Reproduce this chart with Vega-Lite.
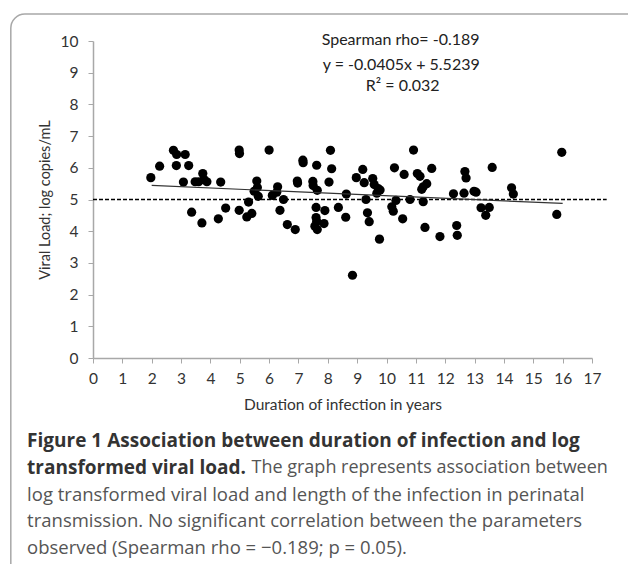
{
  "$schema": "https://vega.github.io/schema/vega-lite/v6.json",
  "autosize": {"type": "none"},
  "width": 499,
  "height": 317,
  "padding": {"left": 93, "top": 41, "right": 36, "bottom": 206},
  "background": "white",
  "config": {
    "view": {"stroke": null},
    "font": "Lato",
    "axis": {
      "grid": false,
      "domainColor": "#a8a8a8",
      "domainWidth": 1.5,
      "tickColor": "#a8a8a8",
      "tickWidth": 1,
      "tickSize": 5,
      "labelFont": "Lato",
      "labelFontSize": 15.5,
      "labelColor": "#333333",
      "titleFont": "Lato",
      "titleFontWeight": "normal",
      "titleColor": "#333333"
    }
  },
  "data": {"values": [
    {"duration": 1.97, "vl": 5.69}, {"duration": 2.27, "vl": 6.05}, {"duration": 2.74, "vl": 6.55},
    {"duration": 2.85, "vl": 6.42}, {"duration": 2.84, "vl": 6.07}, {"duration": 3.14, "vl": 6.42},
    {"duration": 3.08, "vl": 5.55}, {"duration": 3.26, "vl": 6.07}, {"duration": 3.36, "vl": 4.6},
    {"duration": 3.48, "vl": 5.56}, {"duration": 3.6, "vl": 5.56}, {"duration": 3.74, "vl": 5.82},
    {"duration": 3.78, "vl": 5.63}, {"duration": 3.88, "vl": 5.56}, {"duration": 3.71, "vl": 4.26},
    {"duration": 4.27, "vl": 4.39}, {"duration": 4.35, "vl": 5.55}, {"duration": 4.52, "vl": 4.73},
    {"duration": 4.98, "vl": 6.56}, {"duration": 4.99, "vl": 6.45}, {"duration": 4.98, "vl": 4.66},
    {"duration": 5.24, "vl": 4.45}, {"duration": 5.41, "vl": 4.56}, {"duration": 5.3, "vl": 4.92},
    {"duration": 5.49, "vl": 5.26}, {"duration": 5.58, "vl": 5.58}, {"duration": 5.6, "vl": 5.38},
    {"duration": 5.63, "vl": 5.1}, {"duration": 6.0, "vl": 6.56}, {"duration": 6.11, "vl": 5.13},
    {"duration": 6.26, "vl": 5.23}, {"duration": 6.29, "vl": 5.4}, {"duration": 6.37, "vl": 4.66},
    {"duration": 6.49, "vl": 5.0}, {"duration": 6.62, "vl": 4.21}, {"duration": 6.89, "vl": 4.05},
    {"duration": 6.96, "vl": 5.58}, {"duration": 6.97, "vl": 5.52}, {"duration": 7.15, "vl": 6.24},
    {"duration": 7.16, "vl": 6.16}, {"duration": 7.49, "vl": 5.57}, {"duration": 7.5, "vl": 5.44},
    {"duration": 7.62, "vl": 6.08}, {"duration": 7.64, "vl": 5.29}, {"duration": 7.6, "vl": 4.75},
    {"duration": 7.6, "vl": 4.43}, {"duration": 7.62, "vl": 4.31}, {"duration": 7.56, "vl": 4.16},
    {"duration": 7.64, "vl": 4.05}, {"duration": 7.87, "vl": 4.24}, {"duration": 7.9, "vl": 4.65},
    {"duration": 8.04, "vl": 5.55}, {"duration": 8.09, "vl": 6.55}, {"duration": 8.13, "vl": 5.97},
    {"duration": 8.36, "vl": 4.75}, {"duration": 8.61, "vl": 4.44}, {"duration": 8.63, "vl": 5.17},
    {"duration": 8.84, "vl": 2.61}, {"duration": 8.97, "vl": 5.69}, {"duration": 9.19, "vl": 5.95},
    {"duration": 9.24, "vl": 5.53}, {"duration": 9.3, "vl": 5.0}, {"duration": 9.35, "vl": 4.58},
    {"duration": 9.41, "vl": 4.3}, {"duration": 9.53, "vl": 5.66}, {"duration": 9.58, "vl": 5.47},
    {"duration": 9.67, "vl": 5.2}, {"duration": 9.72, "vl": 5.34}, {"duration": 9.78, "vl": 5.3},
    {"duration": 9.76, "vl": 3.75}, {"duration": 10.18, "vl": 4.77}, {"duration": 10.23, "vl": 4.63},
    {"duration": 10.27, "vl": 6.0}, {"duration": 10.32, "vl": 4.97}, {"duration": 10.55, "vl": 4.39},
    {"duration": 10.6, "vl": 5.79}, {"duration": 10.8, "vl": 5.0}, {"duration": 10.92, "vl": 6.56},
    {"duration": 11.05, "vl": 5.82}, {"duration": 11.14, "vl": 5.73}, {"duration": 11.2, "vl": 5.32},
    {"duration": 11.25, "vl": 5.4}, {"duration": 11.37, "vl": 5.5}, {"duration": 11.25, "vl": 4.93},
    {"duration": 11.31, "vl": 4.12}, {"duration": 11.54, "vl": 5.98}, {"duration": 11.82, "vl": 3.83},
    {"duration": 12.28, "vl": 5.18}, {"duration": 12.39, "vl": 4.18}, {"duration": 12.41, "vl": 3.87},
    {"duration": 12.67, "vl": 5.88}, {"duration": 12.71, "vl": 5.68}, {"duration": 12.64, "vl": 5.2},
    {"duration": 12.98, "vl": 5.26}, {"duration": 13.05, "vl": 5.23}, {"duration": 13.22, "vl": 4.74},
    {"duration": 13.38, "vl": 4.5}, {"duration": 13.5, "vl": 4.75}, {"duration": 13.6, "vl": 6.01},
    {"duration": 14.26, "vl": 5.37}, {"duration": 14.32, "vl": 5.17}, {"duration": 15.8, "vl": 4.53},
    {"duration": 15.97, "vl": 6.49}
  ]},
  "encoding": {
    "x": {"type": "quantitative", "scale": {"domain": [0, 17], "nice": false},
          "axis": {"values": [0,1,2,3,4,5,6,7,8,9,10,11,12,13,14,15,16,17], "labelOverlap": false, "labelFlush": false, "labelPadding": 8, "titlePadding": 11, "titleFontSize": 15.5},
          "title": "Duration of infection in years"},
    "y": {"type": "quantitative", "scale": {"domain": [0, 10], "nice": false},
          "axis": {"values": [0,1,2,3,4,5,6,7,8,9,10], "labelOverlap": false, "labelFlush": false, "labelPadding": 10, "titlePadding": 8, "titleFontSize": 14.5},
          "title": "Viral Load; log copies/mL"}
  },
  "layer": [
    {
      "mark": {"type": "point", "filled": true, "color": "black", "opacity": 1, "size": 85},
      "encoding": {
        "x": {"field": "duration"},
        "y": {"field": "vl"}
      }
    },
    {
      "data": {"values": [{}]},
      "mark": {"type": "rect", "fill": null, "stroke": "#a8a8a8", "strokeWidth": 1.5, "cornerRadius": 14},
      "encoding": {
        "x": {"datum": -2.8},
        "x2": {"datum": 19.5},
        "y": {"datum": 10.85},
        "y2": {"datum": -7.5}
      }
    },
    {
      "data": {"values": [{}]},
      "mark": {"type": "rule", "color": "black", "strokeWidth": 1.5, "strokeDash": [4, 2]},
      "encoding": {
        "x": {"datum": 0},
        "x2": {"datum": 17.5},
        "y": {"datum": 5}
      }
    },
    {
      "data": {"values": [{"dx": 2, "fit": 5.4429}, {"dx": 16, "fit": 4.8759}]},
      "mark": {"type": "line", "color": "#333333", "strokeWidth": 1.2},
      "encoding": {
        "x": {"field": "dx"},
        "y": {"field": "fit"}
      }
    },
    {
      "data": {"values": [{"label": "Spearman rho= -0.189"}]},
      "mark": {"type": "text", "fontSize": 16, "font": "Lato", "color": "#222222", "align": "center", "baseline": "middle"},
      "encoding": {"x": {"datum": 10.48}, "y": {"datum": 10.03}, "text": {"field": "label"}}
    },
    {
      "data": {"values": [{"label": "y = -0.0405x + 5.5239"}]},
      "mark": {"type": "text", "fontSize": 16, "font": "Lato", "color": "#222222", "align": "center", "baseline": "middle"},
      "encoding": {"x": {"datum": 10.5}, "y": {"datum": 9.23}, "text": {"field": "label"}}
    },
    {
      "data": {"values": [{"label": "R² = 0.032"}]},
      "mark": {"type": "text", "fontSize": 16, "font": "Lato", "color": "#222222", "align": "center", "baseline": "middle"},
      "encoding": {"x": {"datum": 10.55}, "y": {"datum": 8.58}, "text": {"field": "label"}}
    },
    {
      "data": {"values": [{"label": "Figure 1 Association between duration of infection and log"}]},
      "mark": {"type": "text", "fontSize": 19, "font": "Open Sans", "fontWeight": "bold", "color": "#333333", "align": "left", "baseline": "middle"},
      "encoding": {"x": {"datum": -2.245}, "y": {"datum": -2.62}, "text": {"field": "label"}}
    },
    {
      "data": {"values": [{"label": "transformed viral load."}]},
      "mark": {"type": "text", "fontSize": 19, "font": "Open Sans", "fontWeight": "bold", "color": "#333333", "align": "left", "baseline": "middle"},
      "encoding": {"x": {"datum": -2.245}, "y": {"datum": -3.47}, "text": {"field": "label"}}
    },
    {
      "data": {"values": [{"label": "The graph represents association between"}]},
      "mark": {"type": "text", "fontSize": 18, "font": "Open Sans", "color": "#555555", "align": "left", "baseline": "middle"},
      "encoding": {"x": {"datum": 5.4}, "y": {"datum": -3.47}, "text": {"field": "label"}}
    },
    {
      "data": {"values": [{"label": "log transformed viral load and length of the infection in perinatal"}]},
      "mark": {"type": "text", "fontSize": 18.5, "font": "Open Sans", "color": "#555555", "align": "left", "baseline": "middle"},
      "encoding": {"x": {"datum": -2.245}, "y": {"datum": -4.32}, "text": {"field": "label"}}
    },
    {
      "data": {"values": [{"label": "transmission. No significant correlation between the parameters"}]},
      "mark": {"type": "text", "fontSize": 18.5, "font": "Open Sans", "color": "#555555", "align": "left", "baseline": "middle"},
      "encoding": {"x": {"datum": -2.245}, "y": {"datum": -5.14}, "text": {"field": "label"}}
    },
    {
      "data": {"values": [{"label": "observed (Spearman rho = −0.189; p = 0.05)."}]},
      "mark": {"type": "text", "fontSize": 18.5, "font": "Open Sans", "color": "#555555", "align": "left", "baseline": "middle"},
      "encoding": {"x": {"datum": -2.245}, "y": {"datum": -5.99}, "text": {"field": "label"}}
    }
  ]
}
